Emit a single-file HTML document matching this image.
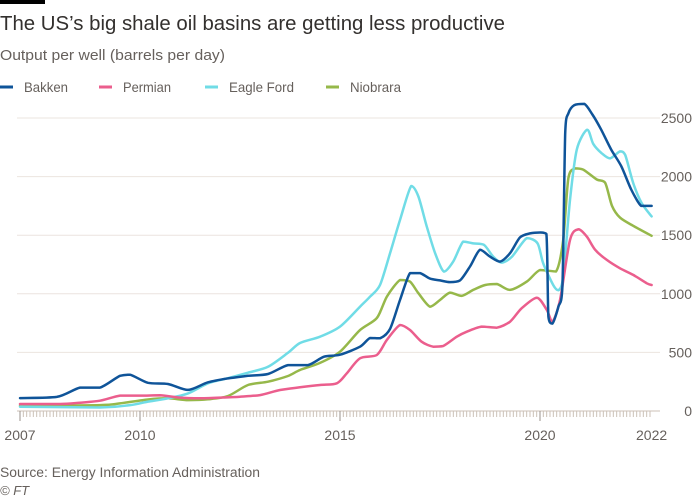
<!DOCTYPE html>
<html><head><meta charset="utf-8"><style>
body{margin:0;background:#fff;width:700px;height:500px;overflow:hidden;font-family:"Liberation Sans",sans-serif;color:#33302e}
</style></head><body>
<svg width="700" height="500" style="position:absolute;left:0;top:0">
<rect x="0" y="0" width="45" height="4" fill="#000"/>
<text x="0" y="30" font-size="20" fill="#33302e" textLength="505" lengthAdjust="spacingAndGlyphs">The US’s big shale oil basins are getting less productive</text>
<text x="0" y="60" font-size="15" fill="#66605c" textLength="225" lengthAdjust="spacingAndGlyphs">Output per well (barrels per day)</text>
<g id="legend"></g>
<g id="grid"></g>
<g id="xaxis"></g>
<g id="series"></g>
<text x="0" y="477" font-size="13.5" fill="#66605c" textLength="260" lengthAdjust="spacingAndGlyphs">Source: Energy Information Administration</text>
<text x="0" y="495" font-size="13" font-style="italic" fill="#66605c">© FT</text>
</svg>
<script>
const yTicks=[0,500,1000,1500,2000,2500];
const xTickYears=[2007,2010,2015,2020];
const xTickLabels=["2007","2010","2015","2020","2022"];
const seriesNames=["Bakken","Permian","Eagle Ford","Niobrara"];
const seriesColors=["#0f5499","#eb5e8d","#70dce6","#96b84a"];
const bakkenX=[2007,2007.92,2008.5,2009,2009.5,2009.75,2010.2,2010.7,2011.2,2011.7,2012.2,2012.7,2013.2,2013.7,2014.2,2014.6,2015,2015.5,2015.75,2016,2016.25,2016.5,2016.75,2017,2017.25,2017.5,2017.75,2018,2018.25,2018.5,2018.75,2019,2019.25,2019.5,2019.75,2020,2020.16,2020.21,2020.31,2020.46,2020.56,2020.63,2020.71,2020.86,2021.11,2021.31,2021.53,2021.78,2022.03,2022.28,2022.53,2022.79];
const bakkenY=[110,120,200,200,300,310,241,230,180,245,278,300,316,392,392,463,480,549,623,620,700,947,1177,1177,1130,1114,1100,1114,1233,1375,1317,1275,1346,1481,1515,1523,1510,805,746,890,1060,2370,2540,2610,2620,2530,2400,2230,2090,1890,1750,1750];
const permianX=[2007,2008,2008.5,2009,2009.5,2010,2010.5,2011,2011.5,2012,2012.5,2013,2013.5,2014,2014.5,2014.92,2015.17,2015.5,2015.92,2016.17,2016.5,2016.75,2017.04,2017.33,2017.58,2017.92,2018.17,2018.54,2018.92,2019.25,2019.54,2019.92,2020.17,2020.31,2020.5,2020.75,2020.96,2021.17,2021.38,2021.67,2022,2022.33,2022.67,2022.79];
const permianY=[60,60,71,88,131,131,134,114,108,114,122,136,179,202,222,236,322,450,478,606,734,691,591,549,555,634,677,720,711,762,876,967,862,762,947,1459,1550,1488,1375,1289,1218,1161,1090,1075];
const eagleX=[2007,2009,2009.75,2010.2,2010.7,2011.2,2011.7,2012.2,2012.7,2013.2,2013.7,2014,2014.5,2015,2015.5,2015.75,2016,2016.25,2016.5,2016.78,2016.96,2017.17,2017.38,2017.6,2017.83,2018.08,2018.33,2018.6,2018.83,2019.04,2019.3,2019.67,2019.94,2020.08,2020.33,2020.46,2020.58,2020.75,2020.92,2021.18,2021.33,2021.54,2021.75,2022,2022.13,2022.33,2022.54,2022.79];
const eagleY=[37,30,50,80,108,150,236,280,327,377,497,580,634,720,890,975,1075,1345,1630,1920,1830,1573,1345,1189,1275,1445,1430,1417,1317,1266,1317,1475,1430,1260,1075,1030,1147,1800,2230,2400,2280,2200,2155,2215,2185,1945,1775,1660];
const niobraraX=[2007,2009,2009.5,2010.2,2010.7,2011.2,2011.7,2012.2,2012.7,2013.2,2013.7,2014,2014.5,2015,2015.5,2015.92,2016.17,2016.5,2016.75,2016.96,2017.25,2017.5,2017.75,2018.04,2018.33,2018.63,2018.92,2019.25,2019.67,2020,2020.4,2020.58,2020.71,2020.88,2021.08,2021.42,2021.63,2021.8,2022,2022.33,2022.79];
const niobraraY=[45,50,65,98,108,93,100,128,222,250,299,350,410,506,690,793,975,1118,1104,1005,890,947,1010,982,1033,1075,1084,1033,1104,1203,1190,1460,1988,2070,2060,1975,1946,1750,1650,1580,1495];
const allX=[bakkenX,permianX,eagleX,niobraraX];
const allY=[bakkenY,permianY,eagleY,niobraraY];
const NS="http://www.w3.org/2000/svg";
function xs(yr){return 20+(yr-2007)*40;}
function ys(v){return 411-v*0.1172;}
function mk(tag,attrs,parent){const e=document.createElementNS(NS,tag);for(const k in attrs)e.setAttribute(k,attrs[k]);parent.appendChild(e);return e;}
function clamp(v,a,b){const lo=Math.min(a,b),hi=Math.max(a,b);return Math.max(lo,Math.min(hi,v));}
function smoothPath(pts){
  let d='M'+pts[0][0].toFixed(1)+','+pts[0][1].toFixed(1);
  for(let i=0;i<pts.length-1;i++){
    const p0=pts[Math.max(0,i-1)],p1=pts[i],p2=pts[i+1],p3=pts[Math.min(pts.length-1,i+2)];
    const t=0.14;
    const c1=[p1[0]+(p2[0]-p0[0])*t,clamp(p1[1]+(p2[1]-p0[1])*t,p1[1],p2[1])];
    const c2=[p2[0]-(p3[0]-p1[0])*t,clamp(p2[1]-(p3[1]-p1[1])*t,p1[1],p2[1])];
    d+=' C'+c1[0].toFixed(1)+','+c1[1].toFixed(1)+' '+c2[0].toFixed(1)+','+c2[1].toFixed(1)+' '+p2[0].toFixed(1)+','+p2[1].toFixed(1);
  }
  return d;
}
const grid=document.getElementById('grid');
yTicks.forEach((t,i)=>{
  if(t>0){const l=mk('line',{x1:17,x2:660,y1:ys(t),y2:ys(t),stroke:'#ebe4df','stroke-width':1},grid);
  
  }
  const tx=mk('text',{x:692,y:ys(t)+5,'text-anchor':'end','font-size':14,fill:'#66605c'},grid);
  tx.textContent=String(t);
  
  
});
const xa=document.getElementById('xaxis');
const base=mk('line',{x1:17,x2:660,y1:411,y2:411,stroke:'#ccc1b7','stroke-width':1},xa);


for(let m=0;m<=189;m++){
  const yr=2007+m/12;const x=xs(yr);
  const major=(m%12===0&&xTickYears.includes(Math.round(yr)));
  const tk=mk('line',{x1:x,x2:x,y1:411,y2:major?421:417,stroke:major?'#99918b':'#ccc1b7','stroke-width':1},xa);
  
  
}
const lblX=[2007,2010,2015,2020,2022.79];
xTickLabels.forEach((lab,i)=>{
  const t=mk('text',{x:xs(lblX[i]),y:440,'text-anchor':'middle','font-size':14,fill:'#66605c'},xa);
  t.textContent=lab;
  
  
});
const sg=document.getElementById('series');
[3,2,1,0].forEach(i=>{
  const pts=allX[i].map((x,j)=>[xs(x),ys(allY[i][j])]);
  const p=mk('path',{d:smoothPath(pts),fill:'none',stroke:seriesColors[i],'stroke-width':2.5,'stroke-linejoin':'round','stroke-linecap':'round'},sg);
  
  
});
const lg=document.getElementById('legend');
const lgX=[0,99,205,326];
const lgW=[44,48,65,51];
seriesNames.forEach((n,i)=>{
  const g=mk('g',{},lg);
  
  
  mk('line',{x1:lgX[i],x2:lgX[i]+13,y1:87,y2:87,stroke:seriesColors[i],'stroke-width':3},g);
  const t=mk('text',{x:lgX[i]+24,y:92,'font-size':14,fill:'#66605c',textLength:lgW[i],lengthAdjust:'spacingAndGlyphs'},g);
  t.textContent=n;
});
</script>
</body></html>
